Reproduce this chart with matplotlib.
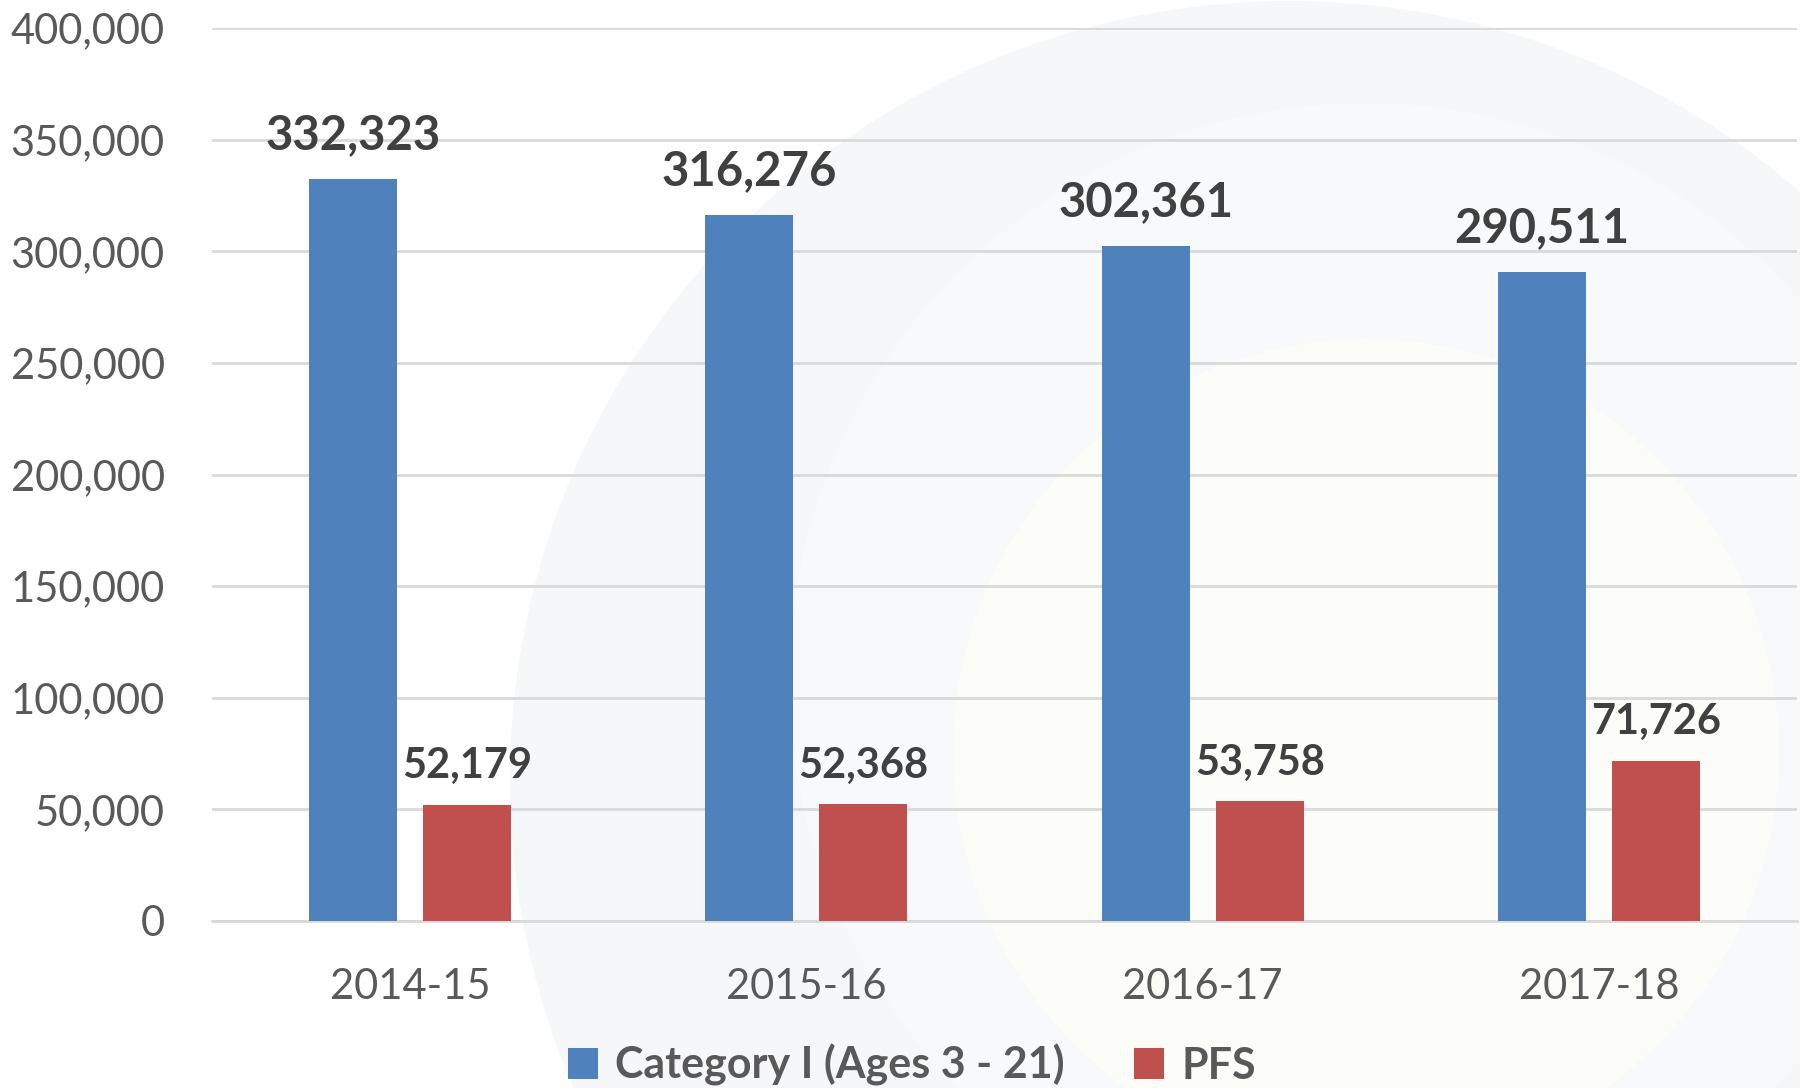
import numpy as np
from matplotlib import pyplot as plt
from matplotlib.patches import Circle

# Datos
anios = ["2014-15", "2015-16", "2016-17", "2017-18"]
categoria_i = [332323, 316276, 302361, 290511]
pfs = [52179, 52368, 53758, 71726]

azul = "#4f81bd"
rojo = "#c0504d"
gris_txt = "#595959"

plt.rcParams['font.family'] = ['Lato', 'DejaVu Sans']

fig = plt.figure(figsize=(18, 10.88), dpi=100)

# Fondo decorativo (circulos tenues), coordenadas en pixeles -> pulgadas
for (cx, cy, r, col) in [(1289, 780, 779, "#f6f7f9"),
                         (1366, 680, 577, "#f8f9fa"),
                         (1366, 752, 413, "#fcfcf9")]:
    fig.patches.append(Circle((cx / 100, (1088 - cy) / 100), r / 100,
                              transform=fig.dpi_scale_trans, facecolor=col,
                              edgecolor="none", zorder=-10))

ax = fig.add_axes([212 / 1800, 1 - 921 / 1088, 1585 / 1800, (921 - 28) / 1088])
ax.patch.set_alpha(0)

x = np.arange(len(anios))
w = 0.222
off = 0.144
b1 = ax.bar(x - off, categoria_i, w, color=azul, label="Category I (Ages 3 - 21)", zorder=3)
b2 = ax.bar(x + off, pfs, w, color=rojo, label="PFS", zorder=3)

for rect, v in zip(b1, categoria_i):
    ax.annotate(f"{v:,}", (rect.get_x() + rect.get_width() / 2, v),
                xytext=(0, 16), textcoords="offset points", ha="center", va="bottom",
                fontsize=34, fontweight="bold", color="#404040")
for rect, v in zip(b2, pfs):
    ax.annotate(f"{v:,}", (rect.get_x() + rect.get_width() / 2, v),
                xytext=(0, 14), textcoords="offset points", ha="center", va="bottom",
                fontsize=30, fontweight="bold", color="#404040")

ax.set_xlim(-0.5, 3.5)
ax.set_ylim(0, 400000)
ax.set_yticks(np.arange(0, 400001, 50000))
ax.yaxis.set_major_formatter(plt.FuncFormatter(lambda v, p: f"{int(v):,}"))
ax.set_xticks(x)
ax.set_xticklabels(anios)
ax.tick_params(axis="y", length=0, pad=34, labelsize=30, labelcolor=gris_txt)
ax.tick_params(axis="x", length=0, pad=34, labelsize=30, labelcolor=gris_txt)
ax.grid(axis="y", color="#d9d9d9", linewidth=2, zorder=0)
for s in ["top", "right", "left"]:
    ax.spines[s].set_visible(False)
ax.spines["bottom"].set_color("#d9d9d9")
ax.spines["bottom"].set_linewidth(2)

leg = fig.legend(handles=[b1, b2], loc="center", bbox_to_anchor=(912 / 1800, 1 - 1065 / 1088),
                 ncol=2, frameon=False, handlelength=0.7, handleheight=0.7,
                 handletextpad=0.4, columnspacing=1.6,
                 prop={"size": 31, "weight": "bold"})
for t in leg.get_texts():
    t.set_color(gris_txt)

plt.savefig("out.png", dpi=100)
